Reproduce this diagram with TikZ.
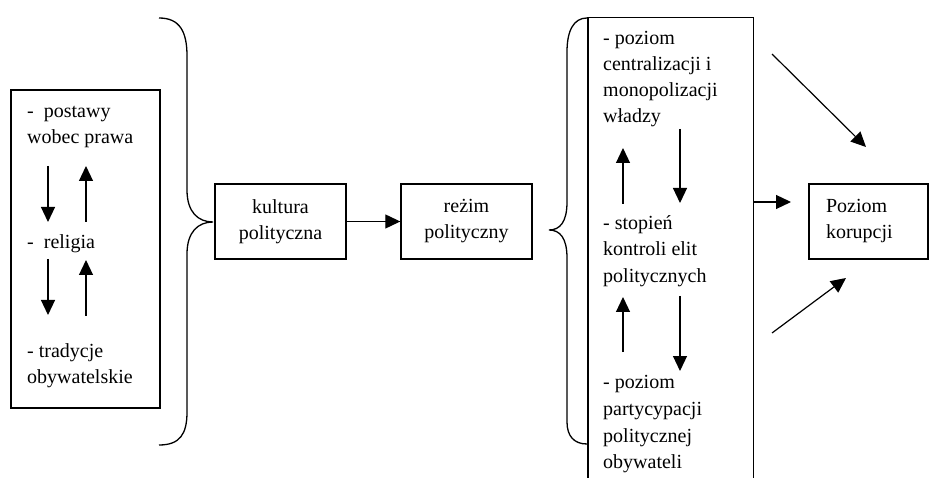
\documentclass[tikz,border=0pt]{standalone}
\usepackage{fontspec}
\setmainfont{Liberation Serif}
\usetikzlibrary{arrows.meta}
\begin{document}
\begin{tikzpicture}[x=1pt,y=-1pt,
  box/.style={draw, line width=1.4pt, inner sep=0pt},
  txt/.style={inner sep=0pt, anchor=base west, font=\fontsize{20}{26}\selectfont},
  ctxt/.style={font=\fontsize{20}{26}\selectfont},
  arr/.style={line width=1.2pt, -{Triangle[length=15pt,width=14pt]}},
  brace/.style={line width=1.3pt}]
\useasboundingbox (0,0) rectangle (929,478);

% left box
\node[box, minimum width=149pt, minimum height=318pt] (lbox) at (85.5,249) {};
\node[txt] (l1) at (27,118) {-~~postawy};
\node[txt] (l2) at (27,144) {wobec prawa};
\node[txt] (l3) at (27,249) {-~~religia};
\node[txt] (l4) at (27,357) {- tradycje};
\node[txt] (l5) at (27,383) {obywatelskie};
\coordinate (la1s) at (48,166); \coordinate (la1e) at (48,222);
\coordinate (la2s) at (86,222); \coordinate (la2e) at (86,166);
\coordinate (la3s) at (48,259); \coordinate (la3e) at (48,315);
\coordinate (la4s) at (86,316); \coordinate (la4e) at (86,260);
\draw[arr] (la1s) -- (la1e);
\draw[arr] (la2s) -- (la2e);
\draw[arr] (la3s) -- (la3e);
\draw[arr] (la4s) -- (la4e);

% brace 1
\draw[brace] (159,18) .. controls (180,18) and (187,32) .. (187,56) -- (187,190)
  .. controls (187,212) and (198,222) .. (213,222)
  .. controls (198,222) and (187,232) .. (187,254) -- (187,412)
  .. controls (187,434) and (180,445) .. (159,445);

% middle boxes
\node[box, ctxt, align=center, minimum width=131pt, minimum height=75pt] (kult) at (280.5,221.5) {kultura\\polityczna};
\node[box, ctxt, align=center, minimum width=131pt, minimum height=75pt] (rez) at (466.5,221.5) {reżim\\polityczny};
\draw[arr] (kult.east) -- (rez.west);

% brace 2
\draw[brace] (587,18) .. controls (574,18) and (567,30) .. (567,52) -- (567,202)
  .. controls (567,222) and (560,230) .. (549,230)
  .. controls (560,230) and (567,238) .. (567,258) -- (567,422)
  .. controls (567,436) and (574,444) .. (587,444);

% right box (open at bottom)
\node[inner sep=0pt, minimum width=165pt, minimum height=461pt] (rbox) at (670.5,248.5) {};
\draw[line width=1.4pt] (rbox.south west) -- (rbox.north west) -- (rbox.north east) -- (rbox.south east);
\node[txt] (r1) at (603,45) {- poziom};
\node[txt] (r2) at (603,71) {centralizacji i};
\node[txt] (r3) at (603,97) {monopolizacji};
\node[txt] (r4) at (603,123) {władzy};
\node[txt] (r5) at (603,230) {- stopień};
\node[txt] (r6) at (603,256) {kontroli elit};
\node[txt] (r7) at (603,283) {politycznych};
\node[txt] (r8) at (603,388) {- poziom};
\node[txt] (r9) at (603,415) {partycypacji};
\node[txt] (r10) at (603,442) {politycznej};
\node[txt] (r11) at (603,468) {obywateli};
\coordinate (ra1s) at (623,204); \coordinate (ra1e) at (623,148);
\coordinate (ra2s) at (680,129); \coordinate (ra2e) at (680,203);
\coordinate (ra3s) at (623,352); \coordinate (ra3e) at (623,297);
\coordinate (ra4s) at (680,296); \coordinate (ra4e) at (680,371);
\draw[arr] (ra1s) -- (ra1e);
\draw[arr] (ra2s) -- (ra2e);
\draw[arr] (ra3s) -- (ra3e);
\draw[arr] (ra4s) -- (ra4e);

% result box
\node[box, ctxt, align=left, text width=85pt, inner xsep=17pt, minimum height=75pt] (kor) at (868.5,221.5) {Poziom\\korupcji};
\coordinate (h0) at (753,202); \coordinate (h1) at (791,202);
\coordinate (d1s) at (772,54); \coordinate (d1e) at (866,147);
\coordinate (d2s) at (772,333); \coordinate (d2e) at (846,278);
\draw[arr] (h0) -- (h1);
\draw[arr] (d1s) -- (d1e);
\draw[arr] (d2s) -- (d2e);
\end{tikzpicture}
\end{document}
